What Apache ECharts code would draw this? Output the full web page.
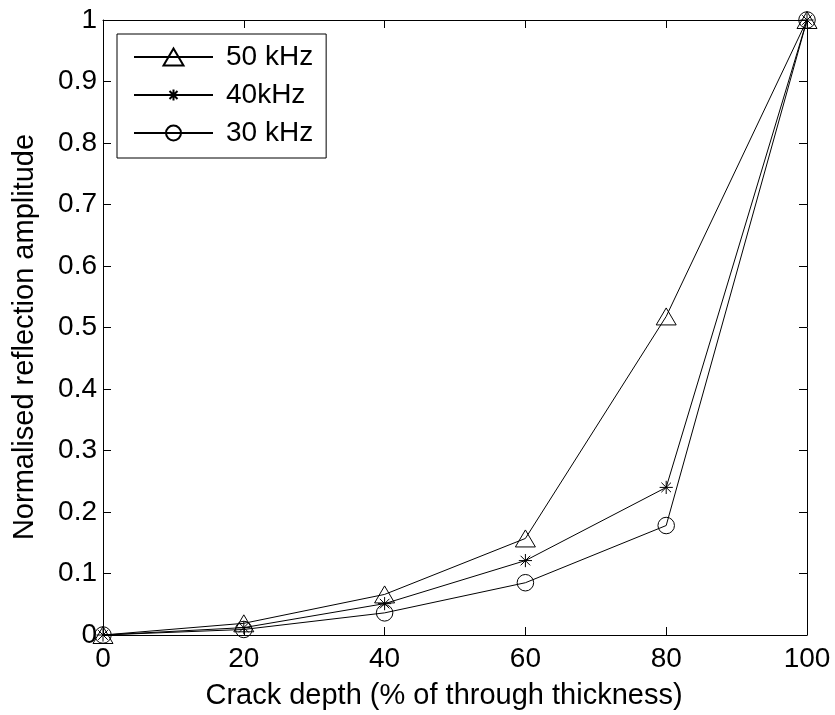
<!DOCTYPE html>
<html>
<head>
<meta charset="utf-8">
<script src="https://cdn.jsdelivr.net/npm/echarts@6/dist/echarts.min.js"></script>
<style>
html,body{margin:0;padding:0;background:#fff;}
#chart{width:835px;height:715px;}
</style>
</head>
<body>
<div id="chart"></div>
<script>
// Data
var depth = [0, 20, 40, 60, 80, 100];
var amp50 = [0, 0.019, 0.066, 0.157, 0.518, 1];
var amp40 = [0, 0.012, 0.051, 0.121, 0.240, 1];
var amp30 = [0, 0.009, 0.036, 0.085, 0.178, 1];
var seriesNames = ['50 kHz', '40kHz', '30 kHz'];
var xTitle = 'Crack depth (% of through thickness)';
var yTitle = 'Normalised reflection amplitude';

function pairs(xs, ys) { return xs.map(function (x, i) { return [x, ys[i]]; }); }

// Marker paths (20x20 frame, zero-length corner points keep the frame)
var frame = 'M0,0L0,0M20,20L20,20';
var triPath = 'path://' + frame + 'M0,18.5L20,18.5L10,1.5Z';
var starPath = 'path://' + frame + 'M4.5,10L15.5,10M10,4.5L10,15.5M6,6L14,14M6,14L14,6';
var circPath = 'path://' + frame + 'M2.5,10A7.5,7.5,0,1,1,17.5,10A7.5,7.5,0,1,1,2.5,10Z';

var FONT = 'Liberation Sans, Arial, Helvetica, sans-serif';

function mkSeries(name, ys, symbol, size) {
  return {
    name: name,
    type: 'line',
    data: pairs(depth, ys),
    symbol: symbol,
    symbolSize: size,
    showAllSymbol: true,
    clip: false,
    lineStyle: { color: '#000', width: 1 },
    itemStyle: { color: 'rgba(255,255,255,0)', borderColor: '#000', borderWidth: 1 },
    emphasis: { disabled: true },
    animation: false
  };
}

function axisCommon() {
  return {
    axisLine: { show: true, onZero: false, lineStyle: { color: '#000', width: 1 } },
    axisTick: { show: true, inside: true, length: 8, lineStyle: { color: '#000', width: 1 } },
    splitLine: { show: false }
  };
}

var chart = echarts.init(document.getElementById('chart'), null, { renderer: 'canvas' });
chart.setOption({
  backgroundColor: '#fff',
  animation: false,
  grid: { left: 103, right: 28, top: 20, bottom: 79, containLabel: false },
  legend: {
    orient: 'vertical',
    left: 117, top: 34,
    padding: [9, 13, 11, 16],
    itemWidth: 79, itemHeight: 25, itemGap: 10,
    borderColor: '#000', borderWidth: 1, borderRadius: 0,
    backgroundColor: '#fff',
    selectedMode: false,
    textStyle: { fontFamily: FONT, fontSize: 28, color: '#000', lineHeight: 28, padding: [0, 0, 0, 8] },
    data: seriesNames
  },
  xAxis: [
    Object.assign(axisCommon(), {
      type: 'value', position: 'bottom', min: 0, max: 100, interval: 20,
      name: xTitle, nameLocation: 'middle', nameGap: 46,
      nameTextStyle: { fontFamily: FONT, fontSize: 29, color: '#000', padding: [0, 22, 0, 0] },
      axisLabel: { fontFamily: FONT, fontSize: 28, color: '#000', margin: 10 }
    }),
    Object.assign(axisCommon(), {
      type: 'value', position: 'top', min: 0, max: 100, interval: 20,
      axisLabel: { show: false }
    })
  ],
  yAxis: [
    Object.assign(axisCommon(), {
      type: 'value', position: 'left', min: 0, max: 1, interval: 0.1,
      name: yTitle, nameLocation: 'middle', nameGap: 64, nameRotate: 90,
      nameTextStyle: { fontFamily: FONT, fontSize: 29, color: '#000', padding: [0, 19, 0, 0] },
      axisLabel: { fontFamily: FONT, fontSize: 28, color: '#000', margin: 6 }
    }),
    Object.assign(axisCommon(), {
      type: 'value', position: 'right', min: 0, max: 1, interval: 0.1,
      axisLabel: { show: false }
    })
  ],
  series: [
    mkSeries(seriesNames[0], amp50, triPath, 20),
    mkSeries(seriesNames[1], amp40, starPath, 24),
    mkSeries(seriesNames[2], amp30, circPath, 22)
  ]
});
</script>
</body>
</html>
